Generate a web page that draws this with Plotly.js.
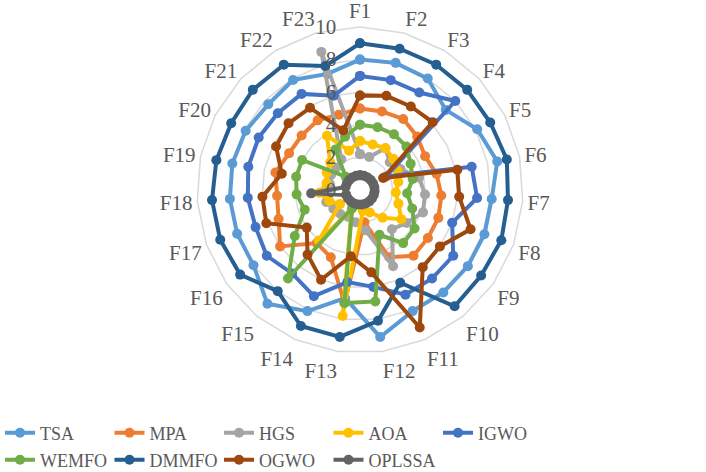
<!DOCTYPE html>
<html>
<head>
<meta charset="utf-8">
<script src="https://cdn.plot.ly/plotly-3.0.1.min.js"></script>
<style>html,body{margin:0;padding:0;background:#fff;}#chart{width:706px;height:472px;}</style>
</head>
<body>
<div id="chart"></div>
<script>
const categories = ["F1","F2","F3","F4","F5","F6","F7","F8","F9","F10","F11","F12","F13","F14","F15","F16","F17","F18","F19","F20","F21","F22","F23"];
const seriesNames = ["TSA","MPA","HGS","AOA","IGWO","WEMFO","DMMFO","OGWO","OPLSSA"];
const TSA    = [8, 8.1, 8, 7.2, 8.1, 8.6, 8.1, 8.1, 8.1, 8.1, 8.1, 9.1, 6.7, 8.1, 9, 8, 8, 8, 8, 7.9, 7.7, 7.9, 7.4];
const MPA    = [5, 5, 5.1, 4.8, 4.5, 4.8, 5, 5.1, 5.1, 5.2, 4.5, 2, 7, 4.5, 4.2, 6, 5.3, 5.1, 5.3, 4.9, 4.9, 5, 4.8];
const HGS    = [2.2, 2.1, 3, 2.5, 2.8, 3.7, 4, 4.1, 3.5, 3.1, 5.1, 2.5, 2, 1.8, 1.9, 2, 2.2, 2, 1.9, 2, 2, 2.2, 8.8];
const AOA    = [3, 2.9, 3, 2.8, 2.6, 2.4, 2.2, 2.5, 3.1, 2.2, 1.5, 1.3, 7.8, 1.3, 4, 1.5, 2, 2.5, 2.1, 2.3, 2.5, 3.9, 2.5];
const IGWO   = [7, 7, 7, 8, 1.8, 7, 7.2, 6, 7, 7, 7, 6, 5.7, 7.1, 6.6, 7, 6.8, 6.9, 7, 7, 6.9, 6.9, 6];
const WEMFO  = [4, 4, 4, 3.9, 3.5, 3.3, 2.9, 3.4, 4.1, 4.2, 3, 6.9, 7, 1.2, 7, 4.9, 3.6, 3.9, 4, 4, 1.2, 2.9, 3.4];
const DMMFO  = [9, 9, 9, 9, 9, 9.2, 9.1, 9.2, 9.1, 9.2, 6.2, 8.1, 9.1, 9.1, 8, 9, 9.1, 9.1, 9, 8.9, 9, 9, 7.9];
const OGWO   = [5.8, 6, 6, 6.1, 1.6, 6.1, 6.1, 7.2, 6, 6.1, 9.2, 5.1, 4.1, 6, 5.1, 4, 6.1, 6, 4.9, 5.8, 6, 5.9, 3.8];
const OPLSSA = [0.9, 0.9, 0.9, 0.9, 0.9, 0.9, 0.9, 0.9, 0.9, 0.9, 0.9, 0.9, 0.9, 0.9, 0.9, 0.9, 0.9, 3, 0.9, 0.9, 0.9, 0.9, 0.9];
const radialTicks = [0, 2, 4, 6, 8, 10];

const seriesValues = [TSA, MPA, HGS, AOA, IGWO, WEMFO, DMMFO, OGWO, OPLSSA];
const colors = ["#5B9BD5","#ED7D31","#A5A5A5","#FFC000","#4472C4","#70AD47","#255E91","#9E480E","#636363"];

const FONT = "Times New Roman, Liberation Serif, DejaVu Serif, serif";
const traces = seriesNames.map((name, i) => {
  const v = seriesValues[i];
  return {
    type: "scatterpolar",
    mode: "lines+markers",
    name: name,
    legend: i < 5 ? "legend" : "legend2",
    r: v.concat([v[0]]),
    theta: categories.concat([categories[0]]),
    line: {color: colors[i], width: 4},
    marker: {color: colors[i], size: 10},
    hoverinfo: "name+r+theta"
  };
});

const legendBase = {
  orientation: "h",
  x: 0, xanchor: "left", yanchor: "middle",
  entrywidth: 64.5, entrywidthmode: "pixels",
  font: {family: FONT, size: 18, color: "#595959"},
  tracegroupgap: 0, itemwidth: 30, bgcolor: "rgba(0,0,0,0)"
};

const layout = {
  width: 706, height: 472,
  margin: {l: 0, r: 0, t: 0, b: 0, autoexpand: false},
  paper_bgcolor: "#ffffff",
  font: {family: FONT, color: "#595959", size: 20},
  showlegend: true,
  legend: Object.assign({}, legendBase, {y: 1 - 433/472}),
  legend2: Object.assign({}, legendBase, {y: 1 - 460/472}),
  polar: {
    domain: {x: [197/706, 523/706], y: [1 - 353/472, 1 - 27/472]},
    bgcolor: "rgba(0,0,0,0)",
    gridshape: "linear",
    angularaxis: {
      direction: "clockwise", rotation: 90, type: "category",
      categoryarray: categories,
      showgrid: false, showline: true, linecolor: "#D9D9D9", linewidth: 1.5,
      ticks: "", tickfont: {family: FONT, size: 21, color: "#595959"}
    },
    radialaxis: {
      range: [0, 10], tickvals: radialTicks, ticktext: radialTicks.map(String),
      angle: 90, tickangle: 90, side: "counterclockwise",
      showline: false, ticks: "outside", ticklen: 16, tickcolor: "rgba(0,0,0,0)",
      gridcolor: "#D9D9D9", gridwidth: 1.5,
      tickfont: {family: FONT, size: 21, color: "#595959"}
    }
  }
};

Plotly.newPlot("chart", traces, layout, {displayModeBar: false, staticPlot: true});
</script>
</body>
</html>
